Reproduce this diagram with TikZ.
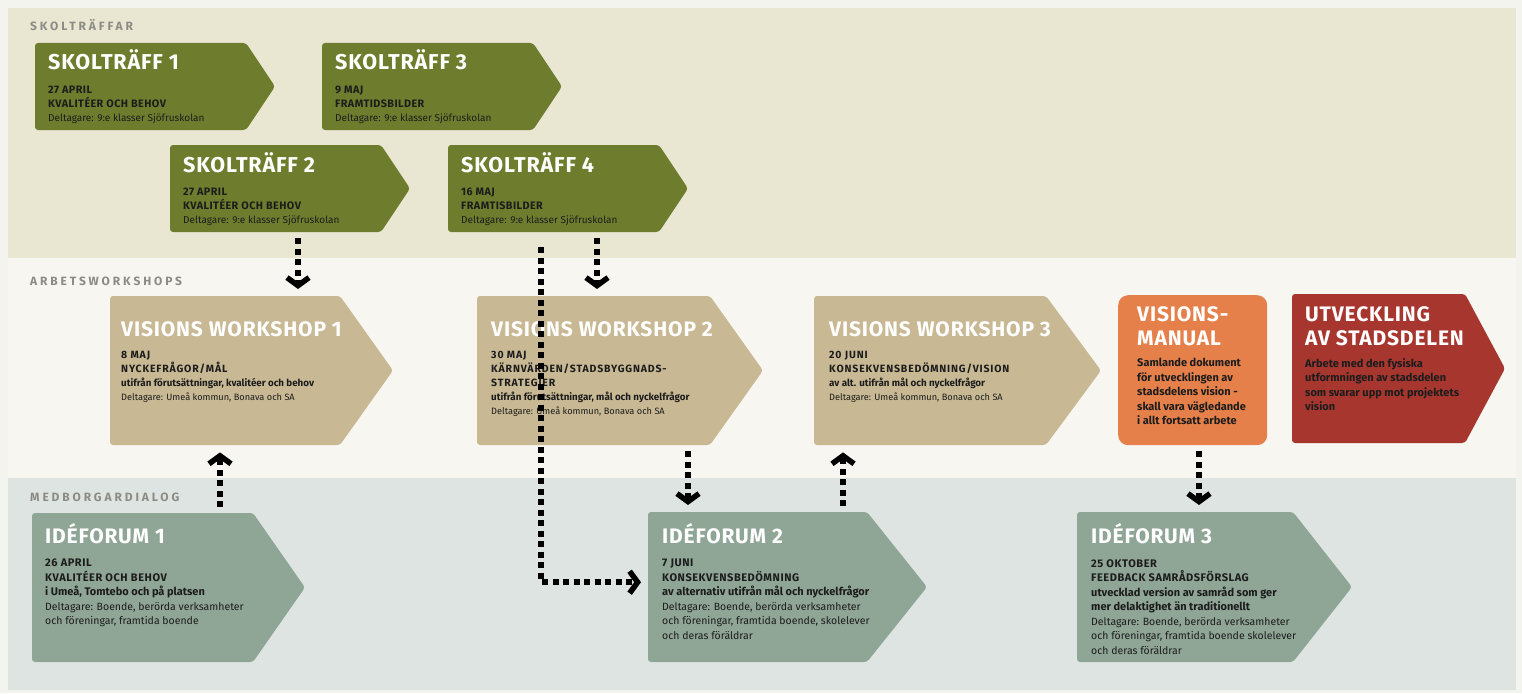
\documentclass[tikz,border=0pt]{standalone}
\usepackage{fontspec}
\setmainfont{Fira Sans}
\newfontfamily\titlefont[LetterSpace=4]{Fira Sans}
\newfontfamily\bandfont[LetterSpace=24]{Fira Sans}
\newfontfamily\capsfontS[LetterSpace=4]{Fira Sans}
\newfontfamily\capsfontW[LetterSpace=8]{Fira Sans}
\newfontfamily\capsfontI[LetterSpace=5]{Fira Sans}
\usetikzlibrary{arrows.meta}
\definecolor{bgpage}{HTML}{F4F4EE}
\definecolor{bandtop}{HTML}{E9E6D2}
\definecolor{bandmid}{HTML}{F7F6F0}
\definecolor{bandbot}{HTML}{DDE4E2}
\definecolor{olive}{HTML}{6E7D2D}
\definecolor{sand}{HTML}{C8B994}
\definecolor{sage}{HTML}{8FA596}
\definecolor{orangeb}{HTML}{E5804A}
\definecolor{redb}{HTML}{A7362F}
\definecolor{bandtxt}{HTML}{8C8C85}
\definecolor{ink}{HTML}{1C1C1C}
\newcommand\abox[7]{%
  \fill[#7,rounded corners=3pt] (#2,#3) -- (#2+#4,#3) -- (#2+#4+#6,#3+#5/2) -- (#2+#4,#3+#5) -- (#2,#3+#5) -- cycle;
  \node[anchor=north west,inner sep=0,minimum width=#4pt,minimum height=#5pt] (#1) at (#2,#3) {};}
% line styles of the small texts
\newcommand\SC[1]{{\capsfontS\bfseries\fontsize{10.8}{14}\selectfont #1}}
\newcommand\SR[1]{{\fontsize{10}{14}\selectfont #1}}
\newcommand\WC[1]{{\capsfontW\bfseries\fontsize{10.5}{14}\selectfont #1}}
\newcommand\WB[1]{{\bfseries\fontsize{9.8}{14}\selectfont #1}}
\newcommand\WR[1]{{\fontsize{9.2}{14}\selectfont #1}}
\newcommand\IC[1]{{\capsfontI\bfseries\fontsize{11}{14.5}\selectfont #1}}
\newcommand\IB[1]{{\bfseries\fontsize{11}{14.5}\selectfont #1}}
\newcommand\IR[1]{{\fontsize{10.5}{14.5}\selectfont #1}}
\tikzset{
  ttl/.style={anchor=base west, inner sep=0, text=white, font=\titlefont\bfseries\fontsize{21.5}{21}\selectfont},
  bigttl/.style={anchor=base west, inner sep=0, text=white, font=\titlefont\bfseries\fontsize{21}{24}\selectfont},
  mttl/.style={anchor=north west, inner sep=0, text=white, align=left, font=\titlefont\bfseries\fontsize{21}{24}\selectfont},
  bodyS/.style={anchor=north west, inner sep=0, text=ink, align=left, font=\fontsize{10}{14}\selectfont},
  bodyW/.style={anchor=north west, inner sep=0, text=ink, align=left, font=\fontsize{9.8}{14}\selectfont},
  bodyI/.style={anchor=north west, inner sep=0, text=ink, align=left, font=\fontsize{10.8}{14.5}\selectfont},
  bodyM/.style={anchor=north west, inner sep=0, text=ink, align=left, font=\bfseries\fontsize{11}{14.6}\selectfont},
  band/.style={anchor=west, inner sep=0, text=bandtxt, font=\bandfont\bfseries\fontsize{12}{12}\selectfont},
  conn/.style={line width=6pt, dash pattern=on 6pt off 4.5pt, shorten <=6pt, shorten >=7pt,
    -{Straight Barb[length=8pt,width=22pt,line width=5.5pt]}}
}
\begin{document}
\begin{tikzpicture}[x=1pt,y=-1pt]
\useasboundingbox (0,0) rectangle (1522,693);
\fill[bgpage] (0,0) rectangle (1522,693);
\fill[bandtop] (8,8) rectangle (1516,258);
\fill[bandmid] (8,258) rectangle (1516,478);
\fill[bandbot] (8,478) rectangle (1516,690);
\node[band] (lab1) at (30,25) {SKOLTRÄFFAR};
\node[band] (lab2) at (30,281) {ARBETSWORKSHOPS};
\node[band] (lab3) at (30,497) {MEDBORGARDIALOG};
% columns
\coordinate (c298) at (298,0);
\coordinate (c597) at (597,0);
\coordinate (c541) at (541,0);
\coordinate (c220) at (220,0);
\coordinate (c688) at (688,0);
\coordinate (c843) at (843,0);
\coordinate (c1199) at (1199,0);
% skoltraffar
\abox{s1}{35}{43}{211}{87}{29}{olive}
\node[ttl] (s1t) at (48,70) {SKOLTRÄFF 1};
\node[bodyS] (s1b) at (48,86) {\SC{27 APRIL}\\\SC{KVALITÉER OCH BEHOV}\\\SR{Deltagare: 9:e klasser Sjöfruskolan}};
\abox{s3}{322}{43}{211}{87}{29}{olive}
\node[ttl] (s3t) at (335,70) {SKOLTRÄFF 3};
\node[bodyS] (s3b) at (335,86) {\SC{9 MAJ}\\\SC{FRAMTIDSBILDER}\\\SR{Deltagare: 9:e klasser Sjöfruskolan}};
\abox{s2}{170}{145}{211}{87}{29}{olive}
\node[ttl] (s2t) at (183,172) {SKOLTRÄFF 2};
\node[bodyS] (s2b) at (183,188) {\SC{27 APRIL}\\\SC{KVALITÉER OCH BEHOV}\\\SR{Deltagare: 9:e klasser Sjöfruskolan}};
\abox{s4}{448}{145}{211}{87}{29}{olive}
\node[ttl] (s4t) at (461,172) {SKOLTRÄFF 4};
\node[bodyS] (s4b) at (461,188) {\SC{16 MAJ}\\\SC{FRAMTISBILDER}\\\SR{Deltagare: 9:e klasser Sjöfruskolan}};
% workshops
\abox{vw1}{110}{296}{230}{149}{53}{sand}
\node[bigttl] (vw1t) at (121,336) {VISIONS WORKSHOP 1};
\node[bodyW] (vw1b) at (121,351) {\WC{8 MAJ}\\\WC{NYCKEFRÅGOR/MÅL}\\\WB{utifrån förutsättningar, kvalitéer och behov}\\\WR{Deltagare: Umeå kommun, Bonava och SA}};
\abox{vw2}{477}{296}{233}{149}{53}{sand}
\node[bigttl] (vw2t) at (491,336) {VISIONS WORKSHOP 2};
\node[bodyW] (vw2b) at (491,351) {\WC{30 MAJ}\\\WC{KÄRNVÄRDEN/STADSBYGGNADS-}\\\WC{STRATEGIER}\\\WB{utifrån förutsättningar, mål och nyckelfrågor}\\\WR{Deltagare: Umeå kommun, Bonava och SA}};
\abox{vw3}{814}{296}{232}{149}{55}{sand}
\node[bigttl] (vw3t) at (829,336) {VISIONS WORKSHOP 3};
\node[bodyW] (vw3b) at (829,351) {\WC{20 JUNI}\\\WC{KONSEKVENSBEDÖMNING/VISION}\\\WB{av alt. utifrån mål och nyckelfrågor}\\\WR{Deltagare: Umeå kommun, Bonava och SA}};
\node[fill=orangeb, rounded corners=10pt, minimum width=149pt, minimum height=150pt, anchor=north west, inner sep=0] (vm) at (1118,295) {};
\node[mttl] (vmt) at (1137,306) {VISIONS-\\MANUAL};
\node[bodyM] (vmb) at (1137,358) {Samlande dokument\\för utvecklingen av\\stadsdelens vision -\\skall vara vägledande\\i allt fortsatt arbete};
\abox{ut}{1292}{294}{173}{149}{40}{redb}
\node[mttl] (utt) at (1305,306) {UTVECKLING\\AV STADSDELEN};
\node[bodyM] (utb) at (1305,358) {Arbete med den fysiska\\utformningen av stadsdelen\\som svarar upp mot projektets\\vision};
% ideforum
\abox{if1}{32}{513}{221}{149}{52}{sage}
\node[bigttl] (if1t) at (45,543) {IDÉFORUM 1};
\node[bodyI] (if1b) at (45,559) {\IC{26 APRIL}\\\IC{KVALITÉER OCH BEHOV}\\\IB{i Umeå, Tomtebo och på platsen}\\\IR{Deltagare: Boende, berörda verksamheter}\\\IR{och föreningar, framtida boende}};
\abox{if2}{648}{512}{219}{150}{60}{sage}
\node[bigttl] (if2t) at (662,543) {IDÉFORUM 2};
\node[bodyI] (if2b) at (662,559) {\IC{7 JUNI}\\\IC{KONSEKVENSBEDÖMNING}\\\IB{av alternativ utifrån mål och nyckelfrågor}\\\IR{Deltagare: Boende, berörda verksamheter}\\\IR{och föreningar, framtida boende, skolelever}\\\IR{och deras föräldrar}};
\abox{if3}{1077}{512}{216}{150}{59}{sage}
\node[bigttl] (if3t) at (1091,543) {IDÉFORUM 3};
\node[bodyI] (if3b) at (1091,559) {\IC{25 OKTOBER}\\\IC{FEEDBACK SAMRÅDSFÖRSLAG}\\\IB{utvecklad version av samråd som ger}\\\IB{mer delaktighet än traditionellt}\\\IR{Deltagare: Boende, berörda verksamheter}\\\IR{och föreningar, framtida boende skolelever}\\\IR{och deras föräldrar}};
% connectors
\draw[conn] (s2.south -| c298) -- (vw1.north -| c298);
\draw[conn] (s4.south -| c597) -- (vw2.north -| c597);
\draw[conn, shorten <=15pt] (s4.south -| c541) |- ([yshift=5pt]if2.west);
\draw[conn] (if1.north -| c220) -- (vw1.south -| c220);
\draw[conn] (vw2.south -| c688) -- (if2.north -| c688);
\draw[conn] (if2.north -| c843) -- (vw3.south -| c843);
\draw[conn] (vm.south -| c1199) -- (if3.north -| c1199);
\end{tikzpicture}
\end{document}
